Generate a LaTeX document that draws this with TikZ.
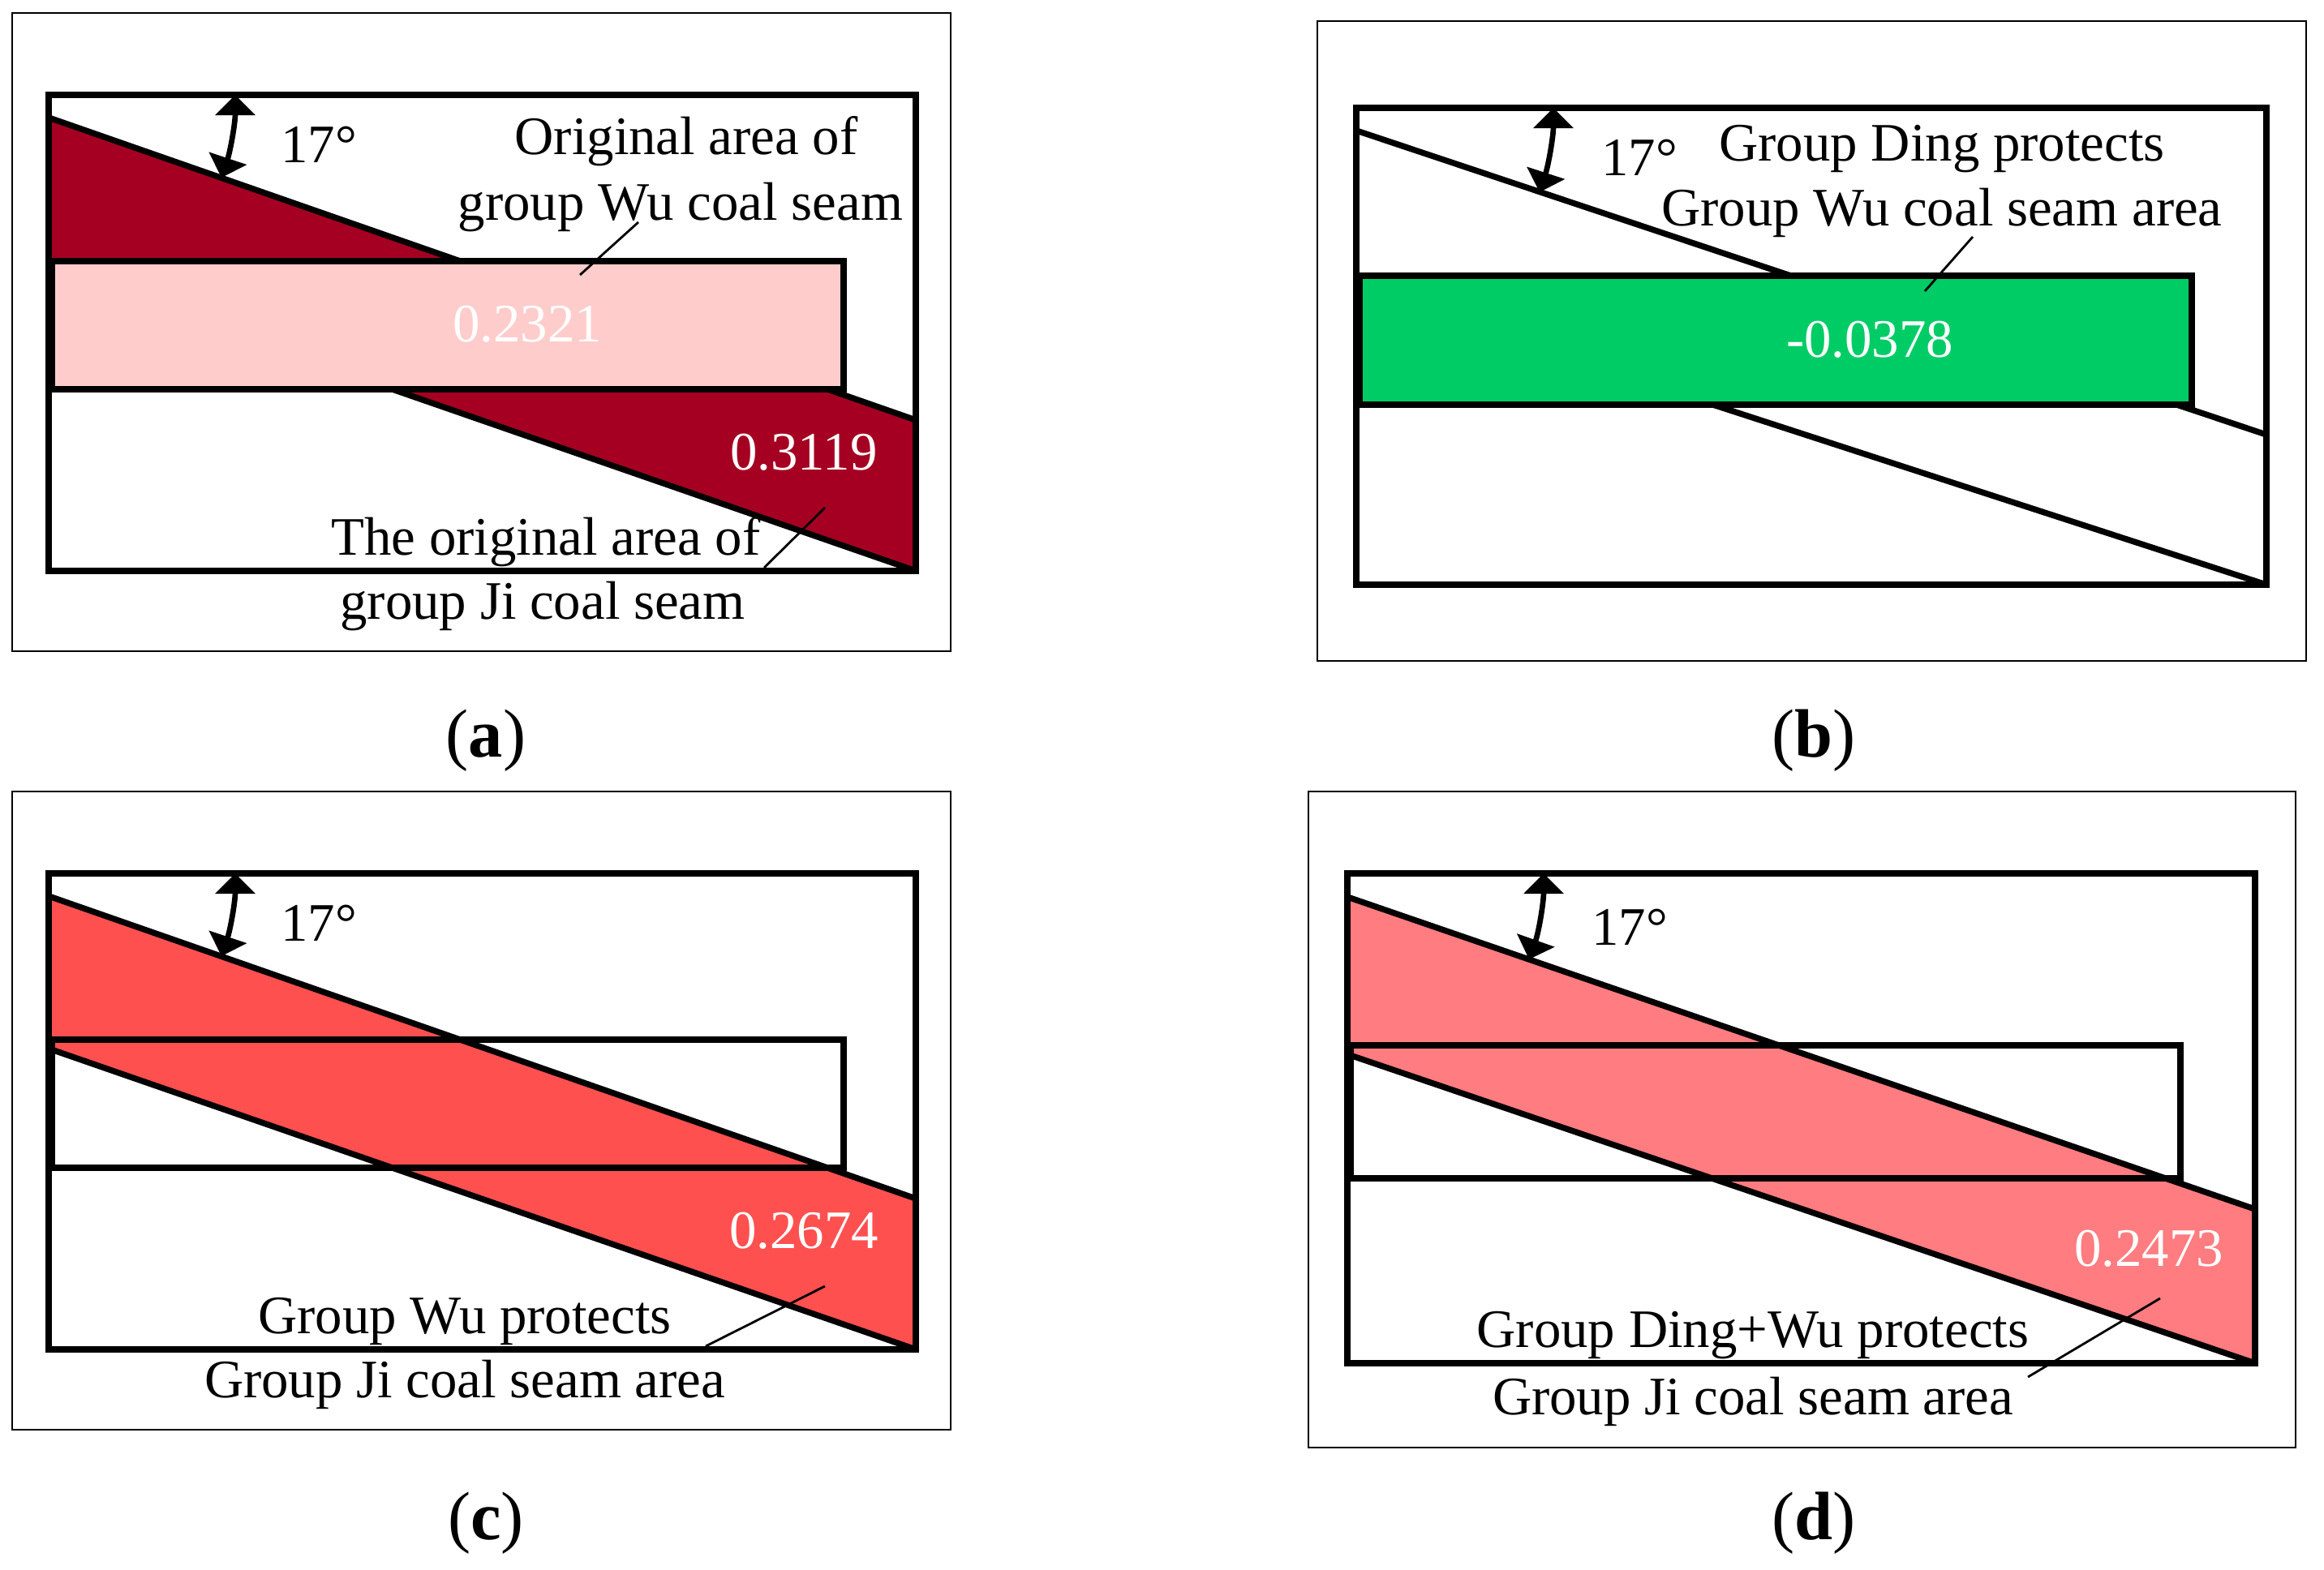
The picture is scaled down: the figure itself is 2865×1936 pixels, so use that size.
\documentclass[tikz,border=0pt]{standalone}
\usepackage{fontspec}
\setmainfont{Liberation Serif}
\usetikzlibrary{arrows.meta}
\definecolor{darkredfill}{HTML}{A50021}
\definecolor{pinkfill}{HTML}{FFCCCC}
\definecolor{greenfill}{HTML}{00CC66}
\definecolor{redfill}{HTML}{FF5050}
\definecolor{salmonfill}{HTML}{FF7C80}
\begin{document}
\begin{tikzpicture}[x=0.01cm,y=-0.01cm,
  outerframe/.style={draw=black,line width=0.6pt},
  box/.style={draw=black,line width=2.1pt,line join=miter},
  seamline/.style={draw=black,line width=2.1pt},
  lbl/.style={font=\fontsize{19}{22}\selectfont,inner sep=0pt,anchor=base},
  num/.style={lbl,text=white},
  leader/.style={draw=black,line width=0.8pt},
  angarrow/.style={draw=black,line width=1.9pt,{Triangle[length=0.25cm,width=0.48cm]}-{Triangle[length=0.25cm,width=0.48cm]}},
  captxt/.style={font=\fontsize{24}{28}\selectfont,inner sep=0pt,anchor=base}]
\fill[white] (0,0) rectangle (2865,1936);
\useasboundingbox (0,0) rectangle (2865,1936);

% ---------------- panel (a) ----------------
\fill[darkredfill] (60,145) -- (1129,518) -- (1129,704) -- (60,333) -- cycle;
\draw[seamline] (60,145) -- (1129,518);
\draw[seamline] (60,333) -- (1129,704);
\draw[box,fill=pinkfill] (64,322) rectangle (1040,480);
\draw[box] (60,117) rectangle (1129,704);
\draw[outerframe] (15,16) rectangle (1172,803);
\draw[angarrow] (290,117) .. controls (290,152) and (284,186) .. (273,219);
\node[lbl] (a17) at (393,200) {17°};
\node[lbl] (aorig1) at (846,190) {Original area of};
\node[lbl] (aorig2) at (839,271) {group Wu coal seam};
\node[num] (anum1) at (650,421) {0.2321};
\node[num] (anum2) at (991,579) {0.3119};
\node[lbl] (aji1) at (673,684) {The original area of};
\node[lbl] (aji2) at (669,763) {group Ji coal seam};
\coordinate (aL1s) at (787,274);
\coordinate (aL1e) at (715,339);
\coordinate (aL2s) at (1017,626);
\coordinate (aL2e) at (942,700);
\draw[leader] (aL1s) -- (aL1e);
\draw[leader] (aL2s) -- (aL2e);
\node[captxt] (capa) at (599,933) {(\textbf{a})};

% ---------------- panel (b) ----------------
\draw[seamline] (1672,161) -- (2794,536);
\draw[seamline] (1672,356) -- (2794,721);
\draw[box,fill=greenfill] (1676,340) rectangle (2702,499);
\draw[box] (1672,133) rectangle (2794,721);
\draw[outerframe] (1624,26) rectangle (2843,815);
\draw[angarrow] (1915,133) .. controls (1915,168) and (1909,203) .. (1898,237);
\node[lbl] (b17) at (2021,216) {17°};
\node[lbl] (bding1) at (2394,199) {Group Ding protects};
\node[lbl] (bding2) at (2394,278) {Group Wu coal seam area};
\node[num] (bnum) at (2305,440) {-0.0378};
\coordinate (bLs) at (2432,292);
\coordinate (bLe) at (2373,359);
\draw[leader] (bLs) -- (bLe);
\node[captxt] (capb) at (2236,933) {(\textbf{b})};

% ---------------- panel (c) ----------------
\fill[redfill] (60,1105) -- (1129,1478) -- (1129,1664) -- (60,1293) -- cycle;
\draw[seamline] (60,1105) -- (1129,1478);
\draw[seamline] (60,1293) -- (1129,1664);
\draw[box] (64,1282) rectangle (1040,1440);
\draw[box] (60,1077) rectangle (1129,1664);
\draw[outerframe] (15,976) rectangle (1172,1763);
\draw[angarrow] (290,1077) .. controls (290,1112) and (284,1146) .. (273,1179);
\node[lbl] (c17) at (393,1160) {17°};
\node[num] (cnum) at (991,1539) {0.2674};
\node[lbl] (cwu1) at (573,1644) {Group Wu protects};
\node[lbl] (cwu2) at (573,1723) {Group Ji coal seam area};
\coordinate (cLs) at (1017,1586);
\coordinate (cLe) at (870,1660);
\draw[leader] (cLs) -- (cLe);
\node[captxt] (capc) at (599,1898) {(\textbf{c})};

% ---------------- panel (d) ----------------
\fill[salmonfill] (1661,1106) -- (2780,1491) -- (2780,1681) -- (1661,1300) -- cycle;
\draw[seamline] (1661,1106) -- (2780,1491);
\draw[seamline] (1661,1300) -- (2780,1681);
\draw[box] (1665,1289) rectangle (2688,1453);
\draw[box] (1661,1077) rectangle (2780,1681);
\draw[outerframe] (1613,976) rectangle (2830,1785);
\draw[angarrow] (1903,1077) .. controls (1903,1113) and (1897,1149) .. (1885,1183);
\node[lbl] (d17) at (2009,1165) {17°};
\node[num] (dnum) at (2649,1561) {0.2473};
\node[lbl] (ddw1) at (2161,1661) {Group Ding+Wu protects};
\node[lbl] (ddw2) at (2161,1744) {Group Ji coal seam area};
\coordinate (dLs) at (2663,1601);
\coordinate (dLe) at (2500,1698);
\draw[leader] (dLs) -- (dLe);
\node[captxt] (capd) at (2236,1898) {(\textbf{d})};
\end{tikzpicture}
\end{document}
